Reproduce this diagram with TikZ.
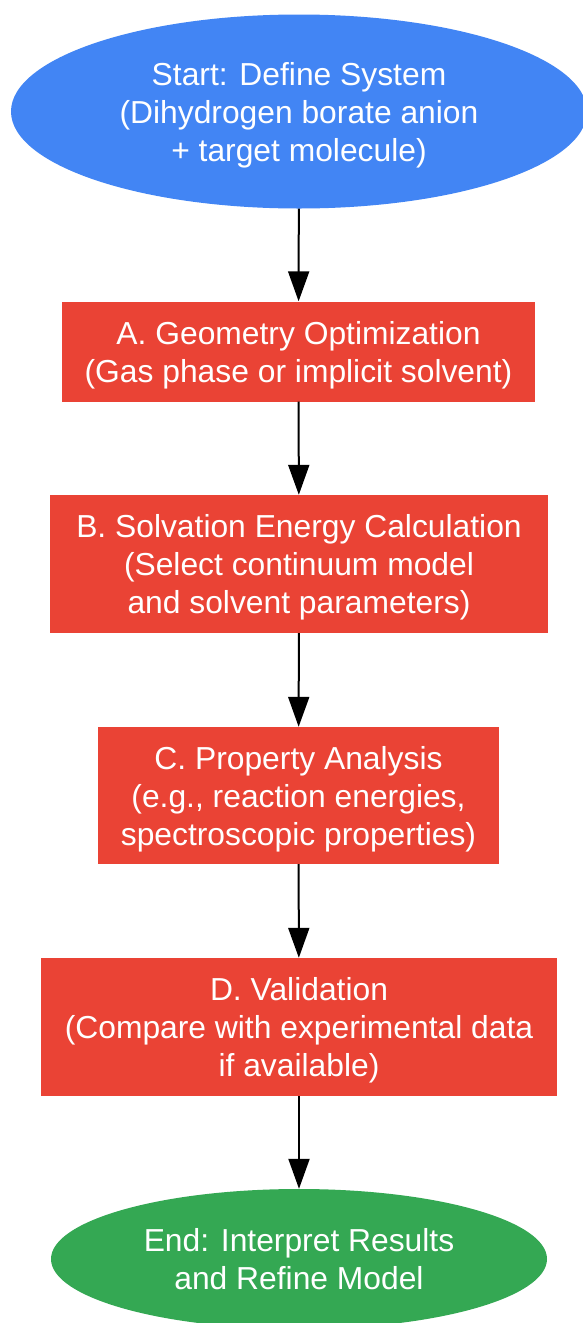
\documentclass[tikz,border=0pt]{standalone}
\usepackage{fontspec}
\setmainfont{Liberation Sans}
\usetikzlibrary{shapes.geometric,arrows.meta}
\definecolor{cblue}{HTML}{4285F4}
\definecolor{cred}{HTML}{EA4335}
\definecolor{cgreen}{HTML}{34A853}
\tikzset{
  lbl/.style={text=white, align=center, inner sep=0pt, text depth=0pt, font=\fontsize{31.8}{38}\selectfont},
  oval/.style={lbl, ellipse, draw=none},
  stepbox/.style={lbl, rectangle, draw=none, fill=cred},
  conn/.style={-{Triangle[length=30pt,width=21pt]}, line width=2pt, black}
}
\begin{document}
\begin{tikzpicture}[x=1pt,y=-1pt]
\useasboundingbox (0,0) rectangle (583,1323);
\fill[white] (0,0) rectangle (583,1323);
\node[oval, fill=cblue, minimum width=576pt, minimum height=194pt] (start) at (299,111.5)
  {Start: Define System\\(Dihydrogen borate anion\\+ target molecule)};
\node[stepbox, minimum width=473pt, minimum height=100pt] (a) at (298.5,351.5)
  {A. Geometry Optimization\\(Gas phase or implicit solvent)};
\node[stepbox, minimum width=498pt, minimum height=138pt] (b) at (299,564)
  {B. Solvation Energy Calculation\\(Select continuum model\\and solvent parameters)};
\node[stepbox, minimum width=401pt, minimum height=137pt] (c) at (298.5,795.5)
  {C. Property Analysis\\(e.g., reaction energies,\\spectroscopic properties)};
\node[stepbox, minimum width=516pt, minimum height=138pt] (d) at (299,1027)
  {D. Validation\\(Compare with experimental data\\if available)};
\node[oval, fill=cgreen, minimum width=496pt, minimum height=140pt] (e) at (299,1259)
  {End: Interpret Results\\and Refine Model};
\draw[conn] (start) -- (a);
\draw[conn] (a) -- (b);
\draw[conn] (b) -- (c);
\draw[conn] (c) -- (d);
\draw[conn] (d) -- (e);
\end{tikzpicture}
\end{document}
